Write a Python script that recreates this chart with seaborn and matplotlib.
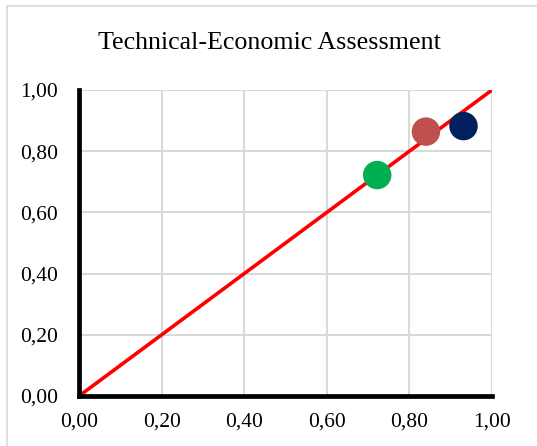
import matplotlib
matplotlib.use("Agg")
import matplotlib.pyplot as plt
import seaborn as sns
import pandas as pd
from matplotlib.patches import Rectangle
from matplotlib.ticker import FuncFormatter

# Data
line_x = [0.0, 1.0]
line_y = [0.0, 1.0]
point_names = ["A", "B", "C"]
point_x = [0.722, 0.840, 0.931]
point_y = [0.722, 0.864, 0.882]
point_colors = ["#00B050", "#C0504D", "#002060"]
ticks = [0.0, 0.2, 0.4, 0.6, 0.8, 1.0]
title = "Technical-Economic Assessment"

sns.set_style("white")
plt.rcParams["font.family"] = ["Liberation Serif", "DejaVu Serif"]

fig = plt.figure(figsize=(5.37, 4.46), dpi=100)
ax = fig.add_axes([79/537, 50/446, 413/537, 306/446])

# figure border
fig.patches.append(Rectangle((7/537, -0.05), 1.2, 1 - 6/446 + 0.05,
                             transform=fig.transFigure, fill=False,
                             edgecolor="#d9d9d9", linewidth=1.2))

ax.set_xlim(0, 1)
ax.set_ylim(0, 1)
ax.set_xticks(ticks)
ax.set_yticks(ticks)
ax.grid(True, color="#d9d9d9", linewidth=1.5)
ax.set_axisbelow(True)

df_line = pd.DataFrame({"x": line_x, "y": line_y})
sns.lineplot(data=df_line, x="x", y="y", color="#FF0000", linewidth=2.6, ax=ax,
             zorder=3)

df_pts = pd.DataFrame({"name": point_names, "x": point_x, "y": point_y})
sns.scatterplot(data=df_pts, x="x", y="y", hue="name",
                palette=dict(zip(point_names, point_colors)),
                s=420, edgecolor="none", legend=False, ax=ax, zorder=4,
                clip_on=False)

for side in ["top", "right"]:
    ax.spines[side].set_visible(False)
for side in ["left", "bottom"]:
    ax.spines[side].set_color("black")
    ax.spines[side].set_linewidth(3.4)
    ax.spines[side].set_zorder(5)

fmt = FuncFormatter(lambda v, p: f"{v:.2f}".replace(".", ","))
ax.xaxis.set_major_formatter(fmt)
ax.yaxis.set_major_formatter(fmt)
ax.tick_params(axis="both", length=0, labelsize=15.5, colors="black")
ax.tick_params(axis="x", pad=12)
ax.tick_params(axis="y", pad=15)
ax.set_xlabel("")
ax.set_ylabel("")

fig.text(269/537, 1 - 43/446, title, ha="center", va="center", fontsize=18.7,
         color="black")

fig.savefig("out.png", dpi=100)
